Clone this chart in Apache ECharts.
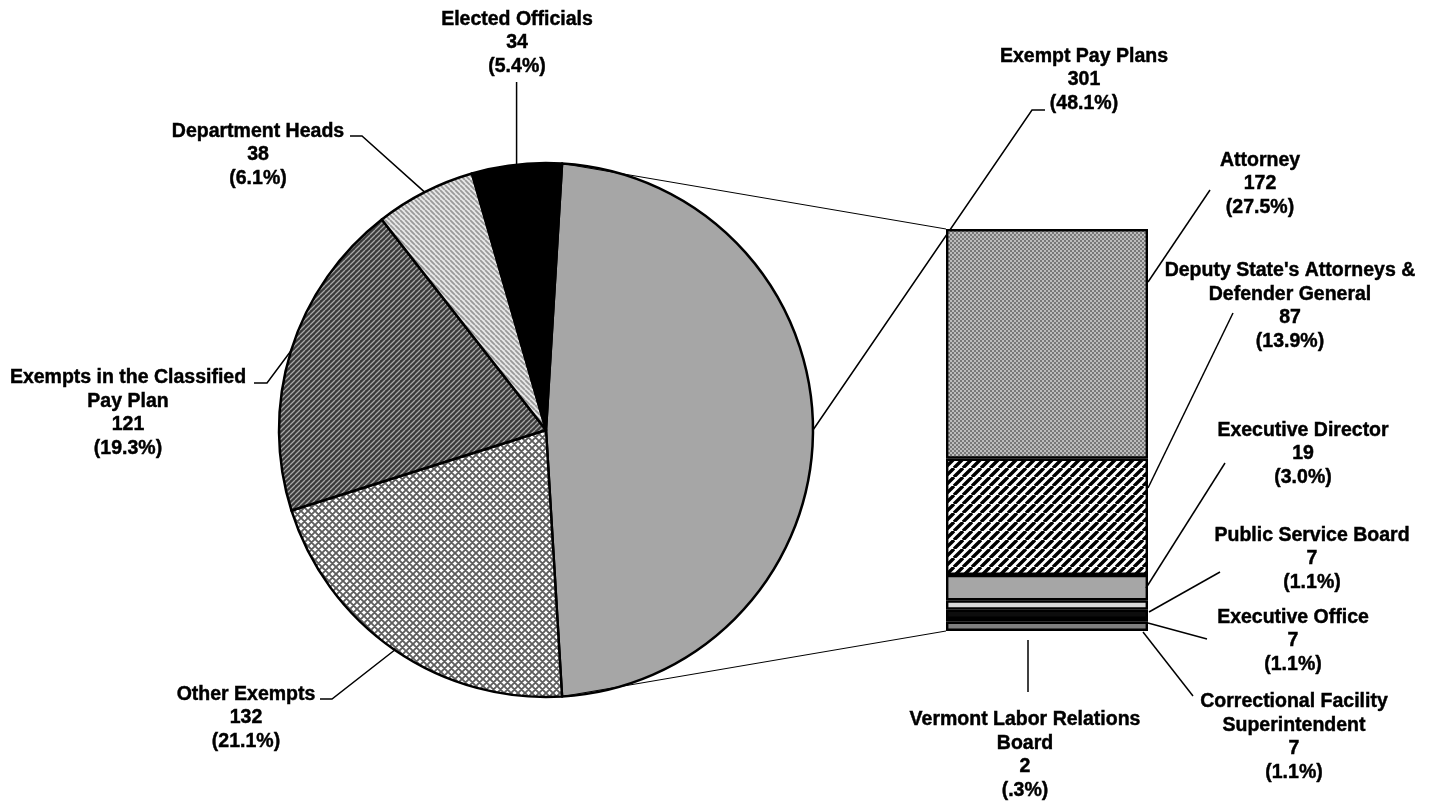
<!DOCTYPE html>
<html><head><meta charset="utf-8">
<script src="https://cdn.jsdelivr.net/npm/echarts/dist/echarts.min.js"></script>
<style>html,body{margin:0;padding:0;background:#fff}#c{width:1434px;height:803px}</style>
</head><body><div id="c"></div>
<script>
// ---- data ----
const pieNames = ['Exempt Pay Plans', 'Other Exempts', 'Exempts in the Classified\nPay Plan', 'Department Heads', 'Elected Officials'];
const pieValues = [301, 132, 121, 38, 34];
const barNames = ['Attorney', "Deputy State's Attorneys &\nDefender General", 'Executive Director', 'Public Service Board', 'Executive Office', 'Vermont Labor Relations\nBoard', 'Correctional Facility\nSuperintendent'];
const barValues = [172, 87, 19, 7, 7, 2, 7];

// ---- layout / style ----
const PIE_C = [546, 430], PIE_R = 267;
const GRID = { left: 946, top: 229, width: 202, height: 402 };
const FONT = { fontFamily: 'Liberation Sans, Arial, sans-serif', fontWeight: 'bold', fontSize: 19.5, lineHeight: 23.5, color: '#000', textBorderColor: '#000', textBorderWidth: 0.45 };
const pieLabelPos = [
  { x: 1084, y: 80, line: [[1032, 110], [1045, 110]] },
  { x: 246, y: 718, line: [[332, 699], [320, 699]] },
  { x: 128, y: 413, line: [[267, 383], [254, 383]] },
  { x: 258, y: 155, line: [[362, 136], [350, 136]] },
  { x: 517, y: 43, line: [[null, 82]] }
];
const barLabelPos = [
  { x: 1260, y: 184, line: [[1148, 282], [1210, 190]] },
  { x: 1290, y: 306, line: [[1148, 488], [1233, 313]] },
  { x: 1303, y: 454, line: [[1146, 588], [1225, 463]] },
  { x: 1312, y: 559, line: [[1149, 612], [1220, 572]] },
  { x: 1293, y: 641, line: [[1148, 623], [1207, 639]] },
  { x: 1025, y: 755, line: [[1028, 640], [1028, 692]] },
  { x: 1294, y: 737, line: [[1143, 632], [1193, 696]] }
];

function tile(size, draw) {
  const c = document.createElement('canvas'); c.width = size; c.height = size;
  const g = c.getContext('2d'); draw(g, size); return { image: c, repeat: 'repeat' };
}
function diag(size, bg, fg, lw, up) {
  return tile(size, (g, s) => {
    g.fillStyle = bg; g.fillRect(0, 0, s, s);
    g.strokeStyle = fg; g.lineWidth = lw; g.beginPath();
    for (let k = -1; k <= 1; k++) {
      if (up) { g.moveTo(k * s, s); g.lineTo(k * s + s, 0); }
      else { g.moveTo(k * s, 0); g.lineTo(k * s + s, s); }
    }
    g.stroke();
  });
}
function cross(size, bg, fg, lw) {
  return tile(size, (g, s) => {
    g.fillStyle = bg; g.fillRect(0, 0, s, s);
    g.strokeStyle = fg; g.lineWidth = lw; g.beginPath();
    for (let k = -1; k <= 1; k++) {
      g.moveTo(k * s, s); g.lineTo(k * s + s, 0);
      g.moveTo(k * s, 0); g.lineTo(k * s + s, s);
    }
    g.stroke();
  });
}
function checker(size, a, b) {
  return tile(size, (g, s) => {
    g.fillStyle = a; g.fillRect(0, 0, s, s);
    g.fillStyle = b; g.fillRect(0, 0, s / 2, s / 2); g.fillRect(s / 2, s / 2, s / 2, s / 2);
  });
}

const pieFills = ['#a6a6a6', cross(7, '#ffffff', '#5e5e5e', 1.9), diag(5, '#3a3a3a', '#a8a8a8', 1.3, true), diag(5, '#e8e8e8', '#9a9a9a', 1.8, false), '#000000'];
const barFills = [checker(4, '#bdbdbd', '#787878'), diag(9, '#ffffff', '#000000', 3.4, true), '#a6a6a6', '#d9d9d9', '#0d0d0d', '#1a1a1a', '#7f7f7f'];

const total = pieValues.reduce((a, b) => a + b, 0);
const startAngle = pieValues[0] / total * 180;
function pct(v) { let s = (v / total * 100).toFixed(1); if (s.startsWith('0')) s = s.slice(1); return '(' + s + '%)'; }
function midPoint(i) {
  let before = 0; for (let k = 0; k < i; k++) before += pieValues[k];
  const a = (startAngle - (before + pieValues[i] / 2) / total * 360) * Math.PI / 180;
  return [PIE_C[0] + PIE_R * Math.cos(a), PIE_C[1] - PIE_R * Math.sin(a)];
}

const chart = echarts.init(document.getElementById('c'), null, { renderer: 'canvas' });
const series = [{
  type: 'pie', center: PIE_C, radius: PIE_R, startAngle: startAngle, clockwise: true,
  animation: false, silent: true,
  data: pieNames.map((n, i) => ({ name: n, value: pieValues[i], itemStyle: { color: pieFills[i] } })),
  itemStyle: { borderColor: '#000', borderWidth: 2.5 },
  label: Object.assign({ show: true, position: 'outside', align: 'center', formatter: p => p.name + '\n' + p.value + '\n' + pct(p.value) }, FONT),
  labelLine: { show: true, length: 5, length2: 5, lineStyle: { color: '#000', width: 1.5 } },
  labelLayout: function (p) {
    const L = pieLabelPos[p.dataIndex];
    const e = midPoint(p.dataIndex);
    const pts = [e].concat(L.line.map(q => [q[0] == null ? e[0] : q[0], q[1]]));
    return { x: L.x, y: L.y, align: 'center', verticalAlign: 'middle', labelLinePoints: pts };
  }
}];
barNames.forEach((n, i) => {
  series.push({
    type: 'bar', name: n, stack: 'b', barWidth: '100%', animation: false, silent: true,
    data: [barValues[i]],
    itemStyle: { color: barFills[i], borderColor: '#000', borderWidth: 2.4 },
    label: Object.assign({ show: true, position: 'inside', align: 'center', formatter: p => n + '\n' + p.value + '\n' + pct(p.value) }, FONT),
    labelLayout: function () {
      const L = barLabelPos[i];
      return { x: L.x, y: L.y, align: 'center', verticalAlign: 'middle' };
    }
  });
});
chart.setOption({
  backgroundColor: '#fff',
  animation: false,
  grid: GRID,
  xAxis: { type: 'category', data: ['Exempt Pay Plans'], show: false },
  yAxis: { type: 'value', min: 0, max: pieValues[0], inverse: true, show: false },
  series: series
});
// connector lines between pie slice edges and bar, and bar leader lines
const a0 = startAngle * Math.PI / 180;
const pTop = [PIE_C[0] + PIE_R * Math.cos(a0), PIE_C[1] - PIE_R * Math.sin(a0)];
const pBot = [PIE_C[0] + PIE_R * Math.cos(-a0), PIE_C[1] - PIE_R * Math.sin(-a0)];
const yTop = chart.convertToPixel({ yAxisIndex: 0 }, 0);
const yBot = chart.convertToPixel({ yAxisIndex: 0 }, pieValues[0]);
const gr = [
  { type: 'line', silent: true, z: 10, shape: { x1: pTop[0], y1: pTop[1], x2: GRID.left, y2: yTop }, style: { stroke: '#000', lineWidth: 1 } },
  { type: 'line', silent: true, z: 10, shape: { x1: pBot[0], y1: pBot[1], x2: GRID.left, y2: yBot }, style: { stroke: '#000', lineWidth: 1 } }
];
barLabelPos.forEach(L => gr.push({ type: 'polyline', silent: true, z: 10, shape: { points: L.line }, style: { stroke: '#000', lineWidth: 1.5, fill: null } }));
chart.setOption({ graphic: gr });
</script></body></html>
